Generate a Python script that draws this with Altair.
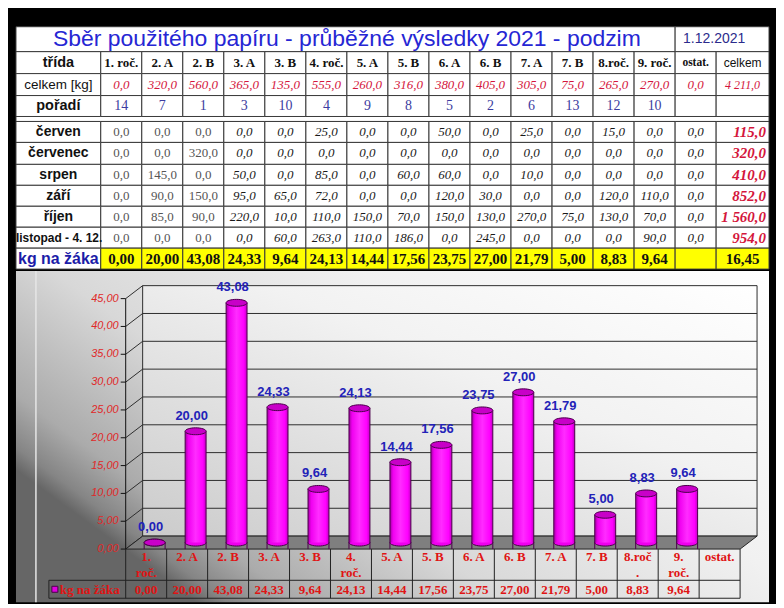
import altair as alt
import pandas as pd

# ---------------- data ----------------
TITLE = "Sběr použitého papíru - průběžné výsledky 2021 - podzim"
DATE = "1.12.2021"

CLASSES = ["1. roč.", "2. A", "2. B", "3. A", "3. B", "4. roč.", "5. A", "5. B",
           "6. A", "6. B", "7. A", "7. B", "8.roč.", "9. roč.", "ostat."]
CHART_LABELS = ["1.|roč.", "2. A", "2. B", "3. A", "3. B", "4.|roč.", "5. A", "5. B",
                "6. A", "6. B", "7. A", "7. B", "8.roč|.", "9.|roč.", "ostat."]
TOTAL_KG = [0.0, 320.0, 560.0, 365.0, 135.0, 555.0, 260.0, 316.0, 380.0, 405.0,
            305.0, 75.0, 265.0, 270.0, 0.0]
TOTAL_KG_ALL = 4211.0
RANK = [14, 7, 1, 3, 10, 4, 9, 8, 5, 2, 6, 13, 12, 10, None]

MONTHS = ["červen", "červenec", "srpen", "září", "říjen", "listopad - 4. 12."]
KG_CERVEN = [0, 0, 0, 0, 0, 25, 0, 0, 50, 0, 25, 0, 15, 0, 0]
KG_CERVENEC = [0, 0, 320, 0, 0, 0, 0, 0, 0, 0, 0, 0, 0, 0, 0]
KG_SRPEN = [0, 145, 0, 50, 0, 85, 0, 60, 60, 0, 10, 0, 0, 0, 0]
KG_ZARI = [0, 90, 150, 95, 65, 72, 0, 0, 120, 30, 0, 0, 120, 110, 0]
KG_RIJEN = [0, 85, 90, 220, 10, 110, 150, 70, 150, 130, 270, 75, 130, 70, 0]
KG_LISTOPAD = [0, 0, 0, 0, 60, 263, 110, 186, 0, 245, 0, 0, 0, 90, 0]
MONTH_TOTALS = [115.0, 320.0, 410.0, 852.0, 1560.0, 954.0]

KG_PER_PUPIL = [0.00, 20.00, 43.08, 24.33, 9.64, 24.13, 14.44, 17.56, 23.75, 27.00,
                21.79, 5.00, 8.83, 9.64, None]
KG_PER_PUPIL_ALL = 16.45
SERIES_NAME = "kg na žáka"
Y_TICKS = [0, 5, 10, 15, 20, 25, 30, 35, 40, 45]


def cz(v, d):
    if v is None:
        return ""
    return f"{v:,.{d}f}".replace(",", " ").replace(".", ",")


SANS = "Liberation Sans"
SERIF = "Liberation Serif"

# ---------------- table ----------------
W = 755
TH = 243
XS = alt.Scale(domain=[0, 1, 16, 17], range=[0, 85, 702, 755], zero=False, nice=False)
YS = alt.Scale(domain=list(range(13)),
               range=[0, 25, 47, 69, 90, 95, 116, 138, 159, 180, 201, 222, 243],
               zero=False, nice=False)

cells = [dict(c0=0, c1=15, r0=0, r1=1, fill="white"),
         dict(c0=15, c1=17, r0=0, r1=1, fill="white"),
         dict(c0=0, c1=17, r0=4, r1=5, fill="white")]
for r in [1, 2, 3, 5, 6, 7, 8, 9, 10, 11]:
    for c in range(17):
        cells.append(dict(c0=c, c1=c + 1, r0=r, r1=r + 1,
                          fill="#ffff00" if (r == 11 and c >= 1) else "white"))
cells_df = pd.DataFrame(cells)

texts = []


def add(style, x, y, t):
    texts.append(dict(style=style, x=x, y=y, t=t))


add("title", 7.0, 0.5, TITLE)
add("date", 15, 0.5, DATE)
add("lab_b", 0.5, 1.5, "třída")
add("lab", 0.5, 2.5, "celkem [kg]")
add("lab_b", 0.5, 3.5, "pořadí")
for i, m in enumerate(MONTHS):
    add("listopad" if i == 5 else "month", 0 if i == 5 else 0.5, 5.5 + i, m)
add("kglab", 0.5, 11.5, SERIES_NAME)
for i, cls in enumerate(CLASSES):
    c = i + 1.5
    add("hdr_ostat" if cls == "ostat." else "hdr", c, 1.5, cls)
    add("tot", c, 2.5, cz(TOTAL_KG[i], 1))
    add("rank", c, 3.5, "" if RANK[i] is None else str(RANK[i]))
    for j, arr in enumerate([KG_CERVEN, KG_CERVENEC, KG_SRPEN, KG_ZARI, KG_RIJEN, KG_LISTOPAD]):
        add("m_plain" if i < 3 else "m_it", c, 5.5 + j, cz(float(arr[i]), 1))
    add("kg", c, 11.5, cz(KG_PER_PUPIL[i], 2))
add("hdr_celkem", 16.5, 1.5, "celkem")
add("tot_all", 16.5, 2.5, cz(TOTAL_KG_ALL, 1))
for j, v in enumerate(MONTH_TOTALS):
    add("m_tot", 17, 5.5 + j, cz(v, 1))
add("kg", 16.5, 11.5, cz(KG_PER_PUPIL_ALL, 2))
texts_df = pd.DataFrame(texts)

STYLES = {
    "title": dict(font=SANS, fontSize=23, color="#2626d4"),
    "date": dict(font=SANS, fontSize=14, color="#2b2b8c", align="left", dx=8),
    "lab_b": dict(font=SANS, fontSize=14.5, fontWeight="bold", color="#111111"),
    "lab": dict(font=SANS, fontSize=13.5, color="#111111"),
    "month": dict(font=SANS, fontSize=14, fontWeight="bold", color="#111111"),
    "listopad": dict(font=SANS, fontSize=12, fontWeight="bold", color="#111111",
                     align="left", dx=0),
    "kglab": dict(font=SANS, fontSize=16, fontWeight="bold", color="#1c1ca8"),
    "hdr": dict(font=SERIF, fontSize=13, fontWeight="bold", color="#111111"),
    "hdr_ostat": dict(font=SERIF, fontSize=11.5, fontWeight="bold", color="#111111"),
    "hdr_celkem": dict(font=SANS, fontSize=12, color="#111111"),
    "tot": dict(font=SERIF, fontSize=13, fontStyle="italic", color="#d4163c"),
    "tot_all": dict(font=SERIF, fontSize=12, fontStyle="italic", color="#d4163c"),
    "rank": dict(font=SERIF, fontSize=14, color="#3c3ca0"),
    "m_plain": dict(font=SERIF, fontSize=13, color="#555555"),
    "m_it": dict(font=SERIF, fontSize=13, fontStyle="italic", color="#1a1a1a"),
    "m_tot": dict(font=SERIF, fontSize=15, fontStyle="italic", fontWeight="bold",
                  color="#d4163c", align="right", dx=-3),
    "kg": dict(font=SERIF, fontSize=15, fontWeight="bold", color="#111111"),
}

table_layers = [
    alt.Chart(cells_df).mark_rect(stroke="#3a3a3a", strokeWidth=1).encode(
        x=alt.X("c0:Q", scale=XS, axis=None), x2="c1:Q",
        y=alt.Y("r0:Q", scale=YS, axis=None), y2="r1:Q",
        fill=alt.Fill("fill:N", scale=None))
]
for name, kw in STYLES.items():
    sub = texts_df[texts_df["style"] == name]
    kw = dict(kw)
    kw.setdefault("align", "center")
    table_layers.append(
        alt.Chart(sub).mark_text(baseline="middle", **kw).encode(
            x=alt.X("x:Q", scale=XS, axis=None),
            y=alt.Y("y:Q", scale=YS, axis=None),
            text="t:N"))
table = alt.layer(*table_layers).properties(width=W, height=TH)

# ---------------- bar chart ----------------
CH = 332
X0, X1 = 110, 726          # front category range
DX, DY = 17, -13           # 3D depth
BX, BY = 8.5, -6.5         # bars sit at mid depth
XB = alt.Scale(domain=CHART_LABELS, range=[X0, X1], paddingInner=0, paddingOuter=0)
YB = alt.Scale(domain=[0, 45], range=[278.7, 27.6], zero=False, nice=False)

bars_df = pd.DataFrame({"cls": CHART_LABELS, "val": KG_PER_PUPIL,
                        "lbl": [cz(v, 2) for v in KG_PER_PUPIL]})
bars_val = bars_df.dropna(subset=["val"])
ticks_df = pd.DataFrame({"v": Y_TICKS, "lbl": [cz(float(v), 2) for v in Y_TICKS]})
one_df = pd.DataFrame({"name": [SERIES_NAME]})

bg_grad = alt.Gradient(gradient="linear", x1=0, y1=0.6, x2=1, y2=0, stops=[
    alt.GradientStop(color="#666666", offset=0),
    alt.GradientStop(color="#858585", offset=0.03),
    alt.GradientStop(color="#ababab", offset=0.1),
    alt.GradientStop(color="#d8d8d8", offset=0.3),
    alt.GradientStop(color="#f1f1f1", offset=0.6),
    alt.GradientStop(color="#ffffff", offset=1)])
wall_grad = alt.Gradient(gradient="linear", x1=0, y1=1, x2=1, y2=0, stops=[
    alt.GradientStop(color="#cbcbcb", offset=0),
    alt.GradientStop(color="#f2f2f2", offset=0.6),
    alt.GradientStop(color="#ffffff", offset=1)])
cyl_grad = alt.Gradient(gradient="linear", x1=0, y1=0, x2=1, y2=0, stops=[
    alt.GradientStop(color="#a000a0", offset=0),
    alt.GradientStop(color="#f000f0", offset=0.15),
    alt.GradientStop(color="#ff2cff", offset=0.5),
    alt.GradientStop(color="#ff00ff", offset=0.85),
    alt.GradientStop(color="#c000c0", offset=1)])

ELLIPSE = "M-1,0A1,0.33,0,1,1,1,0A1,0.33,0,1,1,-1,0Z"
CW = X1 - X0
FLOOR = f"M0,0L{CW},0L{CW + DX},{DY}L{DX},{DY}Z"

one = alt.Chart(one_df)
tk = alt.Chart(ticks_df)
LINE = "#2e2e2e"

layers = [
    one.mark_rect(fill=bg_grad).encode(
        x=alt.value(0), x2=alt.value(W), y=alt.value(0), y2=alt.value(CH)),
    one.mark_rule(color="#e6e6e6", strokeWidth=1.5).encode(
        x=alt.value(20), y=alt.value(0), y2=alt.value(CH)),
    # back wall
    one.mark_rect(fill=wall_grad, yOffset=DY, y2Offset=DY).encode(
        x=alt.value(X0 + DX), x2=alt.value(X1 + DX),
        y=alt.Y(datum=0, scale=YB, axis=None), y2=alt.Y2(datum=45)),
    tk.mark_rule(color=LINE, strokeWidth=1, yOffset=DY).encode(
        x=alt.value(X0 + DX), x2=alt.value(X1 + DX),
        y=alt.Y("v:Q", scale=YB, axis=None)),
    tk.mark_rule(color=LINE, strokeWidth=1, y2Offset=DY).encode(
        x=alt.value(X0), x2=alt.value(X0 + DX),
        y=alt.Y("v:Q", scale=YB, axis=None), y2="v:Q"),
    one.mark_rule(color=LINE, strokeWidth=1, yOffset=DY, y2Offset=DY).encode(
        x=alt.value(X0 + DX), y=alt.Y(datum=0, scale=YB, axis=None), y2=alt.Y2(datum=45)),
    one.mark_rule(color=LINE, strokeWidth=1, yOffset=DY, y2Offset=DY).encode(
        x=alt.value(X1 + DX), y=alt.Y(datum=0, scale=YB, axis=None), y2=alt.Y2(datum=45)),
    # floor
    one.mark_point(shape=FLOOR, size=4, filled=True, fill="#7f7f7f", stroke="#222222",
                   strokeWidth=1, opacity=1).encode(
        x=alt.value(X0), y=alt.Y(datum=0, scale=YB, axis=None)),
    # front axis
    one.mark_rule(color="#111111", strokeWidth=1).encode(
        x=alt.value(X0), y=alt.Y(datum=0, scale=YB, axis=None), y2=alt.Y2(datum=45)),
    tk.mark_rule(color="#111111", strokeWidth=1).encode(
        x=alt.value(X0 - 5), x2=alt.value(X0), y=alt.Y("v:Q", scale=YB, axis=None)),
    tk.mark_text(font=SANS, fontSize=11, fontStyle="italic", color="#e02828",
                 align="right", baseline="middle").encode(
        x=alt.value(X0 - 7), y=alt.Y("v:Q", scale=YB, axis=None), text="lbl:N"),
]

cb = alt.Chart(bars_val)
base = alt.Chart(bars_df)
xcls = alt.X("cls:N", scale=XB, axis=None, sort=None)
layers += [
    cb.mark_point(shape=ELLIPSE, size=441, filled=True, fill="#ee00ee", stroke="#4a004a",
                  strokeWidth=1, opacity=1, xOffset=BX, yOffset=BY).encode(
        x=xcls, y=alt.Y(datum=0, scale=YB, axis=None)),
    cb.mark_bar(fill=cyl_grad, size=21, xOffset=BX, yOffset=BY, y2Offset=BY).encode(
        x=xcls, y=alt.Y("val:Q", scale=YB, axis=None), y2=alt.Y2(datum=0)),
    cb.mark_rule(color="#4a004a", strokeWidth=1, xOffset=BX - 10.5, yOffset=BY).encode(
        x=xcls, y=alt.Y("val:Q", scale=YB, axis=None), y2=alt.Y2(datum=0)),
    cb.mark_rule(color="#4a004a", strokeWidth=1, xOffset=BX + 10.5, yOffset=BY).encode(
        x=xcls, y=alt.Y("val:Q", scale=YB, axis=None), y2=alt.Y2(datum=0)),
    cb.mark_point(shape=ELLIPSE, size=441, filled=True, fill="#c800c8", stroke="#4a004a",
                  strokeWidth=1, opacity=1, xOffset=BX, yOffset=BY).encode(
        x=xcls, y=alt.Y("val:Q", scale=YB, axis=None)),
    cb.mark_text(font=SANS, fontSize=13, fontWeight="bold", color="#2222b8",
                 baseline="middle", dx=BX - 4, dy=-22).encode(
        x=xcls, y=alt.Y("val:Q", scale=YB, axis=None), text="lbl:N"),
]

# category table below the chart
Y_FLOOR = 278.7
Y_MID = 310
Y_BOT = 328
LEG_X = 33
YC = (Y_MID + Y_BOT) / 2
layers += [
    base.mark_rule(color="#222222", strokeWidth=1).encode(
        x=alt.X("cls:N", scale=XB, axis=None, sort=None, bandPosition=0),
        y=alt.value(Y_FLOOR), y2=alt.value(Y_BOT)),
    one.mark_rule(color="#222222", strokeWidth=1).encode(
        x=alt.value(X1), y=alt.value(Y_FLOOR), y2=alt.value(Y_BOT)),
    one.mark_rule(color="#222222", strokeWidth=1).encode(
        x=alt.value(LEG_X), y=alt.value(Y_MID), y2=alt.value(Y_BOT)),
    one.mark_rule(color="#222222", strokeWidth=1).encode(
        x=alt.value(LEG_X), x2=alt.value(X1), y=alt.value(Y_MID)),
    one.mark_rule(color="#222222", strokeWidth=1).encode(
        x=alt.value(LEG_X), x2=alt.value(X1), y=alt.value(Y_BOT)),
    base.mark_text(font=SERIF, fontSize=13, fontWeight="bold", color="#e01414",
                   baseline="top", lineBreak="|", lineHeight=16).encode(
        x=xcls, y=alt.value(Y_FLOOR + 2), text="cls:N"),
    base.mark_text(font=SERIF, fontSize=13, fontWeight="bold", color="#e01414",
                   baseline="middle").encode(
        x=xcls, y=alt.value(YC + 1), text="lbl:N"),
    one.mark_point(shape="square", size=36, filled=True, fill="#e000e0",
                   stroke="#4a004a", strokeWidth=1, opacity=1).encode(
        x=alt.value(LEG_X + 6), y=alt.value(YC)),
    one.mark_text(font=SERIF, fontSize=13, fontWeight="bold", color="#e01414",
                  baseline="middle", align="left").encode(
        x=alt.value(LEG_X + 11), y=alt.value(YC + 1), text="name:N"),
]

chart_part = alt.layer(*layers).properties(width=W, height=CH)

chart = alt.vconcat(table, chart_part, spacing=0).properties(
    background="black",
    padding={"left": 7, "top": 17, "right": 6, "bottom": 0},
).configure_view(stroke=None)

chart.save("out.html", embed_options={"renderer": "svg", "actions": False})
